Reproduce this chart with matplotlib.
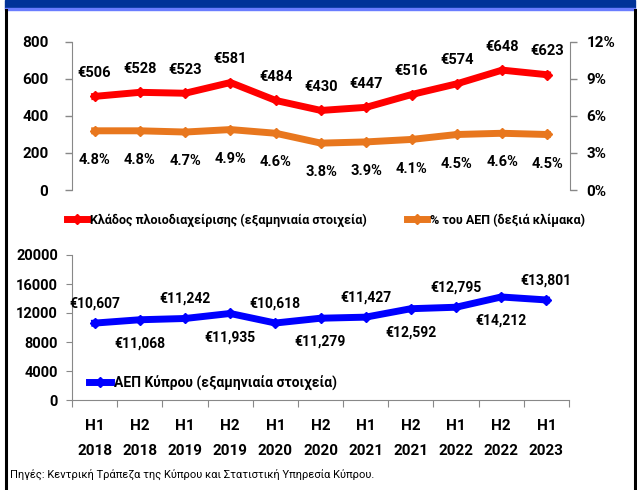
import matplotlib.pyplot as plt
from matplotlib.lines import Line2D
from matplotlib.patches import Rectangle

plt.rcParams['font.family'] = ['Roboto', 'DejaVu Sans']

periods = ['H1\n2018', 'H2\n2018', 'H1\n2019', 'H2\n2019', 'H1\n2020', 'H2\n2020',
           'H1\n2021', 'H2\n2021', 'H1\n2022', 'H2\n2022', 'H1\n2023']
shipping = [506, 528, 523, 581, 484, 430, 447, 516, 574, 648, 623]
share_gdp = [4.8, 4.8, 4.7, 4.9, 4.6, 3.8, 3.9, 4.1, 4.5, 4.6, 4.5]
gdp = [10607, 11068, 11242, 11935, 10618, 11279, 11427, 12592, 12795, 14212, 13801]

RED = '#ff0000'
ORANGE = '#e8771e'
BLUE = '#0000ff'
GREY = '#888888'
x = list(range(len(periods)))

fig = plt.figure(figsize=(6.37, 4.9), dpi=100)

# header band and frame
fig.patches.append(Rectangle((5 / 637, 1 - 8 / 490), 630 / 637, 8 / 490, transform=fig.transFigure,
                             color='#003399', zorder=0))
fig.patches.append(Rectangle((5 / 637, 1 - 10 / 490), 630 / 637, 2 / 490, transform=fig.transFigure,
                             color='#6a7dff', zorder=0))
fig.add_artist(Line2D([6 / 637, 6 / 637], [0, 1 - 10 / 490], transform=fig.transFigure, color='black', lw=2.2))
fig.add_artist(Line2D([634.5 / 637, 634.5 / 637], [0, 1 - 10 / 490], transform=fig.transFigure, color='black', lw=2.2))

# ---- top chart
ax = fig.add_axes([72 / 637, 1 - 190 / 490, 498 / 637, 148 / 490])
ax2 = ax.twinx()
ax.plot(x, shipping, color=RED, lw=5, marker='D', ms=5, zorder=3)
ax2.plot(x, share_gdp, color=ORANGE, lw=5, marker='D', ms=5, zorder=3)
ax.set_xlim(-0.5, len(x) - 0.5)
ax.set_ylim(0, 800)
ax.set_yticks(range(0, 801, 200))
ax2.set_ylim(0, 12)
ax2.set_yticks([0, 3, 6, 9, 12])
ax2.set_yticklabels([f'{v}%' for v in [0, 3, 6, 9, 12]])
ax.set_xticks([])
for a in (ax, ax2):
    for s in ('top', 'bottom'):
        a.spines[s].set_visible(False)
ax.tick_params(axis='y', labelsize=11, color=GREY, length=5, width=1, pad=12)
ax2.tick_params(axis='y', labelsize=11, color=GREY, length=5, width=1, pad=7)
for lab in ax.get_yticklabels() + ax2.get_yticklabels():
    lab.set_fontweight('bold')
ax.spines['right'].set_visible(False)
ax2.spines['left'].set_visible(False)
ax.spines['left'].set_color(GREY)
ax2.spines['right'].set_color(GREY)
ax.set_zorder(ax2.get_zorder() + 1)
ax.patch.set_visible(False)

for i, v in enumerate(shipping):
    ax.annotate(f'€{v}', (i, v), xytext=(0, 17), textcoords='offset points',
                ha='center', va='center', fontsize=10.5, fontweight='bold')
for i, v in enumerate(share_gdp):
    ax2.annotate(f'{v}%', (i, v), xytext=(0, -21), textcoords='offset points',
                 ha='center', va='center', fontsize=10.5, fontweight='bold')

h_red = Line2D([], [], color=RED, lw=5, marker='D', ms=5)
h_or = Line2D([], [], color=ORANGE, lw=5, marker='D', ms=5)
fig.legend([h_red], ['Κλάδος πλοιοδιαχείρισης (εξαμηνιαία στοιχεία)'], loc='center left',
           bbox_to_anchor=(56 / 637, 1 - 220 / 490), frameon=False, handlelength=1.6,
           handletextpad=0.2, prop={'size': 9, 'weight': 'bold'})
fig.legend([h_or], ['% του ΑΕΠ (δεξιά κλίμακα)'], loc='center left',
           bbox_to_anchor=(396 / 637, 1 - 220 / 490), frameon=False, handlelength=1.6,
           handletextpad=0.2, prop={'size': 9, 'weight': 'bold'})

# ---- bottom chart
bx = fig.add_axes([72 / 637, 1 - 400 / 490, 497 / 637, 145 / 490])
bx.plot(x, gdp, color=BLUE, lw=5, marker='D', ms=5, zorder=3)
bx.set_xlim(-0.5, len(x) - 0.5)
bx.set_ylim(0, 20000)
bx.set_yticks(range(0, 20001, 4000))
bx.set_xticks([i - 0.5 for i in range(len(x) + 1)])
bx.set_xticklabels([])
bx.set_xticks(x, minor=True)
bx.set_xticklabels(periods, minor=True, fontsize=11, fontweight='bold', linespacing=2.0)
bx.tick_params(axis='x', which='minor', length=0, pad=14)
bx.tick_params(axis='x', which='major', length=5, color=GREY)
bx.tick_params(axis='y', labelsize=10.5, color=GREY, length=4, pad=6)
for lab in bx.get_yticklabels():
    lab.set_fontweight('bold')
for s in ('top', 'right'):
    bx.spines[s].set_visible(False)
bx.spines['left'].set_color(GREY)
bx.spines['bottom'].set_color(GREY)

for i, v in enumerate(gdp):
    off = 14 if i % 2 == 0 else -17
    bx.annotate(f'€{v:,}', (i, v), xytext=(0, off), textcoords='offset points',
                ha='center', va='center', fontsize=10, fontweight='bold')

h_blue = Line2D([], [], color=BLUE, lw=5, marker='D', ms=5)
fig.legend([h_blue], ['ΑΕΠ Κύπρου (εξαμηνιαία στοιχεία)'], loc='center left',
           bbox_to_anchor=(76 / 637, 1 - 383 / 490), frameon=False, handlelength=1.6,
           handletextpad=0.2, prop={'size': 10, 'weight': 'bold'})

fig.text(10 / 637, 1 - 474 / 490, 'Πηγές: Κεντρική Τράπεζα της Κύπρου και Στατιστική Υπηρεσία Κύπρου.',
         fontsize=8, va='center', ha='left')

fig.savefig('out.png', dpi=100)
